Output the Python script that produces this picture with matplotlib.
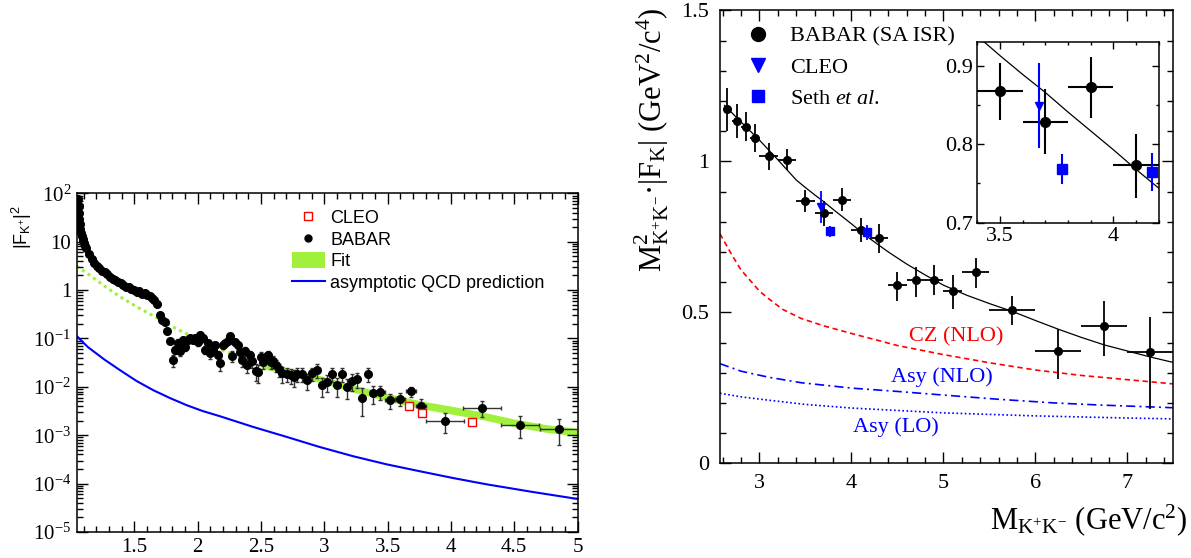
import matplotlib
matplotlib.use('Agg')
import matplotlib.pyplot as plt
from matplotlib.lines import Line2D
from matplotlib.patches import Patch
from matplotlib.ticker import MultipleLocator, LogLocator, NullFormatter, FuncFormatter
import numpy as np

plt.rcParams['font.family'] = 'Liberation Serif'
plt.rcParams['mathtext.fontset'] = 'custom'
plt.rcParams['mathtext.rm'] = 'Liberation Serif'
plt.rcParams['mathtext.it'] = 'Liberation Serif:italic'
plt.rcParams['mathtext.sf'] = 'Liberation Sans'
plt.rcParams['xtick.direction'] = 'in'
plt.rcParams['ytick.direction'] = 'in'
plt.rcParams['xtick.top'] = True
plt.rcParams['ytick.right'] = True

# ---------------- left panel: |F_K+|^2 vs mass ----------------
ff_x = [1.058, 1.061, 1.064, 1.067, 1.071, 1.075, 1.080, 1.086, 1.092, 1.098,
        1.105, 1.112, 1.120, 1.143, 1.164, 1.182, 1.203, 1.224, 1.245, 1.268,
        1.287, 1.308, 1.329, 1.350, 1.371, 1.392, 1.413, 1.434, 1.455, 1.476,
        1.497, 1.518, 1.539, 1.560, 1.581, 1.602, 1.620, 1.638, 1.655, 1.679,
        1.700, 1.722, 1.741, 1.758, 1.782,
        1.803, 1.821, 1.842, 1.860, 1.882, 1.902, 1.921, 1.942, 1.962, 1.981,
        2.000, 2.020, 2.039, 2.057, 2.079, 2.100, 2.118, 2.136, 2.157, 2.176,
        2.197, 2.215, 2.236, 2.254, 2.275, 2.294, 2.315, 2.335, 2.354, 2.375,
        2.393, 2.414, 2.433, 2.459, 2.477, 2.498, 2.519, 2.538, 2.556, 2.577,
        2.598, 2.617, 2.643, 2.670, 2.703, 2.735, 2.760, 2.787, 2.827, 2.866,
        2.905, 2.945, 2.984, 3.023, 3.063, 3.102, 3.142, 3.181, 3.220, 3.260,
        3.301, 3.343, 3.386, 3.443, 3.522, 3.600, 3.684, 3.766, 3.950, 4.249,
        4.548, 4.850]
ff_y = [75, 55, 40, 30, 23, 18.5, 15, 13, 11.5, 10.3,
        9.2, 8.2, 7.3, 5.5, 4.3, 3.7, 3.15, 2.8, 2.5, 2.4,
        2.1, 1.9, 1.72, 1.58, 1.45, 1.38, 1.28, 1.18, 1.14, 1.07,
        1.0, 0.93, 0.96, 0.84, 0.87, 0.80, 0.76, 0.70, 0.62, 0.51,
        0.31, 0.235, 0.22, 0.145, 0.089,
        0.036, 0.059, 0.081, 0.056, 0.092, 0.067, 0.095, 0.100, 0.095, 0.100,
        0.085, 0.117, 0.100, 0.059, 0.079, 0.049, 0.059, 0.073, 0.045, 0.031,
        0.073, 0.079, 0.089, 0.112, 0.043, 0.085, 0.073, 0.053, 0.036, 0.056,
        0.028, 0.045, 0.034, 0.021, 0.020, 0.042, 0.032, 0.041, 0.045, 0.032,
        0.034, 0.028, 0.023, 0.019, 0.0185, 0.0175, 0.0161, 0.0185, 0.0183, 0.0138,
        0.0189, 0.0221, 0.0108, 0.0127, 0.0183, 0.0108, 0.0183, 0.0100, 0.0131, 0.0144,
        0.0060, 0.0183, 0.0075, 0.0079, 0.0053, 0.0057, 0.0081, 0.0041, 0.00200, 0.0037,
        0.00166, 0.00137]
ff_yerr = [2, 1.5, 1, 0.8, 0.6, 0.5, 0.4, 0.35, 0.3, 0.3,
           0.25, 0.2, 0.2, 0.15, 0.12, 0.1, 0.08, 0.07, 0.06, 0.06,
           0.05, 0.05, 0.04, 0.04, 0.04, 0.03, 0.03, 0.03, 0.03, 0.03,
           0.03, 0.03, 0.03, 0.03, 0.03, 0.03, 0.03, 0.02, 0.02, 0.02,
           0.015, 0.012, 0.012, 0.01, 0.01,
           0.010, 0.012, 0.015, 0.012, 0.016, 0.013, 0.016, 0.016, 0.015, 0.016,
           0.015, 0.018, 0.016, 0.012, 0.014, 0.011, 0.012, 0.013, 0.011, 0.010,
           0.013, 0.013, 0.014, 0.016, 0.011, 0.014, 0.013, 0.012, 0.010, 0.012,
           0.009, 0.011, 0.010, 0.008, 0.008, 0.010, 0.009, 0.010, 0.010, 0.009,
           0.009, 0.008, 0.007, 0.007, 0.006, 0.006, 0.006, 0.006, 0.006, 0.005,
           0.006, 0.007, 0.0045, 0.005, 0.006, 0.0045, 0.006, 0.0045, 0.005, 0.005,
           0.0035, 0.006, 0.003, 0.0025, 0.0018, 0.0017, 0.002, 0.0016, 0.0009, 0.0013,
           0.0008, 0.00075]
ff_xerr = [0] * 108 + [0.04, 0.04, 0.04, 0.04, 0.04, 0.15, 0.15, 0.15, 0.15]

cleo_lx = [3.671, 3.772, 4.170]
cleo_ly = [0.0040, 0.0029, 0.00189]

fit_band_x = [2.5, 2.75, 3.0, 3.25, 3.5, 3.75, 4.0, 4.25, 4.5, 4.75, 5.0]
fit_band_lo = [0.0245, 0.0170, 0.0116, 0.0075, 0.0051, 0.0036, 0.00275, 0.0021, 0.0015, 0.00115, 0.00096]
fit_band_hi = [0.0320, 0.0230, 0.0162, 0.0106, 0.0073, 0.0052, 0.0040, 0.0030, 0.00216, 0.00166, 0.00138]
fit_ext_x = [1.045, 1.146, 1.278, 1.409, 1.54, 1.672, 1.803, 1.934, 2.065, 2.196, 2.327, 2.5]
fit_ext_y = [3.14, 2.05, 1.14, 0.67, 0.42, 0.273, 0.174, 0.117, 0.079, 0.057, 0.042, 0.028]

qcd_x = [1.045, 1.134, 1.266, 1.387, 1.518, 1.650, 1.78, 1.913, 2.04, 2.176,
         2.44, 2.702, 2.96, 3.228, 3.49, 3.755, 4.02, 4.281, 4.64, 5.0]
qcd_y = [0.112, 0.0661, 0.0363, 0.0221, 0.0132, 0.00851, 0.00589, 0.00418, 0.00316, 0.00247,
         0.00148, 0.000925, 0.000575, 0.000368, 0.000251, 0.000180, 0.000130, 0.0000968,
         0.0000676, 0.0000482]

left_yticks = [1e-5, 1e-4, 1e-3, 1e-2, 1e-1, 1, 10, 100]
left_ylabels = ['$10^{-5}$', '$10^{-4}$', '$10^{-3}$', '$10^{-2}$', '$10^{-1}$', '1', '10', '$10^{2}$']

# ---------------- right panel: M^2 |F_K| ----------------
bb_x = [2.65, 2.75, 2.85, 2.95, 3.1, 3.3, 3.5, 3.7, 3.9, 4.1, 4.3, 4.5, 4.7, 4.9, 5.1, 5.35, 5.75, 6.25, 6.75, 7.25]
bb_y = [1.172, 1.134, 1.115, 1.077, 1.016, 1.005, 0.868, 0.829, 0.873, 0.774, 0.745, 0.589, 0.607, 0.607, 0.572, 0.633, 0.508, 0.372, 0.456, 0.367]
bb_xerr = [0.05, 0.05, 0.05, 0.05, 0.1, 0.1, 0.1, 0.1, 0.1, 0.1, 0.1, 0.1, 0.1, 0.1, 0.1, 0.15, 0.25, 0.25, 0.25, 0.25]
bb_ylo = [0.07, 0.056, 0.049, 0.046, 0.044, 0.035, 0.037, 0.042, 0.039, 0.042, 0.047, 0.05, 0.055, 0.05, 0.062, 0.053, 0.051, 0.094, 0.102, 0.188]
bb_yhi = [0.07, 0.056, 0.049, 0.046, 0.044, 0.035, 0.036, 0.041, 0.038, 0.0385, 0.047, 0.043, 0.043, 0.05, 0.052, 0.047, 0.047, 0.072, 0.083, 0.119]

cleo_x = [3.671]
cleo_y = [0.849]
cleo_err = [0.054]
seth_x = [3.772, 4.17]
seth_y = [0.768, 0.765]
seth_err = [0.019, 0.024]

fit_x = [2.62, 2.8, 3.0, 3.2, 3.4, 3.5, 3.6, 3.7, 3.8, 3.9, 4.0, 4.1, 4.2, 4.4, 4.6, 4.8, 5.0,
         5.25, 5.5, 5.75, 6.0, 6.25, 6.5, 6.75, 7.0, 7.25, 7.5]
fit_y = [1.185, 1.13, 1.07, 1.005, 0.938, 0.913, 0.889, 0.866, 0.841, 0.817, 0.793, 0.768, 0.744,
         0.70, 0.66, 0.624, 0.59, 0.557, 0.529, 0.503, 0.473, 0.444, 0.417, 0.392, 0.372, 0.352, 0.334]

cz_x = [2.57, 2.7, 2.8, 2.9, 3.0, 3.1, 3.25, 3.45, 3.7, 4.0, 4.5, 5.0, 5.5, 6.0, 6.5, 7.0, 7.5]
cz_y = [0.76, 0.69, 0.64, 0.605, 0.57, 0.545, 0.51, 0.48, 0.455, 0.43, 0.39, 0.36, 0.333, 0.309, 0.291, 0.277, 0.263]
asy_nlo_x = [2.57, 2.8, 3.1, 3.45, 4.0, 4.5, 5.0, 5.6, 6.2, 6.7, 7.5]
asy_nlo_y = [0.33, 0.305, 0.285, 0.267, 0.249, 0.238, 0.226, 0.212, 0.200, 0.193, 0.184]
asy_lo_x = [2.57, 2.8, 3.1, 3.5, 4.0, 4.5, 5.0, 6.0, 7.0, 7.5]
asy_lo_y = [0.232, 0.22, 0.209, 0.195, 0.183, 0.175, 0.167, 0.157, 0.150, 0.147]

green = '#a0f03c'
blue = '#0000ff'

fig = plt.figure(figsize=(11.91, 5.58), dpi=100)

# ---- left ----
ax1 = fig.add_axes([0.0644, 0.0466, 0.4205, 0.607])
ax1.set_yscale('log')
ax1.fill_between(fit_band_x, fit_band_lo, fit_band_hi, color=green, lw=0, zorder=1)
ax1.plot(fit_ext_x, fit_ext_y, color=green, ls=(0, (1, 1.2)), lw=2.2, zorder=1)
ax1.plot(qcd_x, qcd_y, color=blue, lw=1.5, zorder=2)
ax1.errorbar(ff_x, ff_y, yerr=ff_yerr, xerr=ff_xerr, fmt='o', ms=5.5, color='k',
             ecolor='#333333', elinewidth=1, capsize=1.5, capthick=1, zorder=3)
ax1.plot(cleo_lx, cleo_ly, 's', ms=5.5, mfc='white', mec='red', mew=1, zorder=4)
ax1.set_xlim(1.045, 5)
ax1.set_ylim(1e-5, 1e2)
ax1.xaxis.set_major_locator(MultipleLocator(0.5))
ax1.xaxis.set_minor_locator(MultipleLocator(0.1))
ax1.xaxis.set_major_formatter(FuncFormatter(lambda v, p: '%g' % v))
ax1.set_yticks(left_yticks)
ax1.set_yticklabels(left_ylabels)
ax1.yaxis.set_minor_locator(LogLocator(base=10, subs=np.arange(2, 10), numticks=30))
ax1.yaxis.set_minor_formatter(NullFormatter())
ax1.tick_params(which='major', length=8, width=1, labelsize=15)
ax1.tick_params(which='minor', length=4, width=1)
ax1.tick_params(axis='x', pad=4)
ax1.tick_params(axis='y', pad=4)
for s in ax1.spines.values():
    s.set_linewidth(1.1)

hl = [Line2D([], [], marker='s', ls='none', ms=5.5, mfc='white', mec='red', mew=1),
      Line2D([], [], marker='o', ls='none', ms=5, color='k'),
      Patch(color=green, lw=0),
      Line2D([], [], color=blue, lw=1.5)]
ax1.legend(hl, ['CLEO', 'BABAR', 'Fit', 'asymptotic QCD prediction'],
           loc='upper left', bbox_to_anchor=(0.2449, 0.625), bbox_transform=fig.transFigure,
           frameon=False, borderpad=0, borderaxespad=0, handlelength=1.85,
           handleheight=0.95, handletextpad=0.3, labelspacing=0.2,
           prop={'family': 'Liberation Sans', 'size': 13})
fig.text(22 / 1191, 1 - 227 / 558, r'$\mathsf{|F_{K^{+}}|^{2}}$', rotation=90,
         ha='center', va='center', fontsize=13)

# ---- right ----
ax2 = fig.add_axes([0.6045, 0.1697, 0.3806, 0.8118])
ax2.plot(cz_x, cz_y, color='#ff0000', lw=1.2, dashes=(3.2, 2.2))
ax2.plot(asy_nlo_x, asy_nlo_y, color=blue, lw=1.2, dashes=(5.5, 2.5, 1.2, 2.5))
ax2.plot(asy_lo_x, asy_lo_y, color=blue, lw=1.2, dashes=(1, 1.5))
ax2.plot(fit_x, fit_y, color='k', lw=0.9)
ax2.errorbar(bb_x, bb_y, xerr=bb_xerr, yerr=[bb_ylo, bb_yhi], fmt='o', ms=5.5,
             color='k', elinewidth=1.3, capsize=0)
ax2.errorbar(cleo_x, cleo_y, yerr=cleo_err, fmt='v', ms=5.5, color=blue, elinewidth=1.3, capsize=0)
ax2.errorbar(seth_x, seth_y, yerr=seth_err, fmt='s', ms=5.5, color=blue, elinewidth=1.3, capsize=0)
ax2.text(5.136, 0.419, 'CZ (NLO)', color='#ff0000', fontsize=16, ha='center', va='center')
ax2.text(4.984, 0.285, 'Asy (NLO)', color=blue, fontsize=16, ha='center', va='center')
ax2.text(4.486, 0.119, 'Asy (LO)', color=blue, fontsize=16, ha='center', va='center')
ax2.set_xlim(2.57, 7.5)
ax2.set_ylim(0, 1.5)
ax2.xaxis.set_major_locator(MultipleLocator(1))
ax2.xaxis.set_minor_locator(MultipleLocator(0.2))
ax2.yaxis.set_major_locator(MultipleLocator(0.5))
ax2.yaxis.set_minor_locator(MultipleLocator(0.1))
ax2.xaxis.set_major_formatter(FuncFormatter(lambda v, p: '%g' % v))
ax2.yaxis.set_major_formatter(FuncFormatter(lambda v, p: '%g' % v))
ax2.tick_params(which='major', length=8, width=1, labelsize=16)
ax2.tick_params(which='minor', length=4, width=1)
ax2.tick_params(axis='x', pad=8)
ax2.tick_params(axis='y', pad=8)
for s in ax2.spines.values():
    s.set_linewidth(1.1)

hr = [Line2D([], [], marker='o', ls='none', ms=10, color='k'),
      Line2D([], [], marker='v', ls='none', ms=10, color=blue),
      Line2D([], [], marker='s', ls='none', ms=8.5, color=blue)]
ax2.legend(hr, ['BABAR (SA ISR)', 'CLEO', r'Seth $\mathit{et\ al.}$'],
           loc='upper left', bbox_to_anchor=(0.6226, 0.9534), bbox_transform=fig.transFigure,
           frameon=False, borderpad=0, borderaxespad=0, handlelength=1.5,
           handletextpad=0.7, labelspacing=0.47, prop={'size': 16})

fig.text(652 / 1191, 1 - 140 / 558,
         r'$\mathrm{M}^{2}_{\mathrm{K^{+}K^{-}}}$·$|\mathrm{F}_{\mathrm{K}}|$ (GeV$^{2}$/c$^{4}$)',
         rotation=90, ha='center', va='center', fontsize=22)
fig.text(1187 / 1191, 1 - 520 / 558,
         r'$\mathrm{M}_{\mathrm{K^{+}K^{-}}}$ (GeV/c$^{2}$)',
         ha='right', va='center', fontsize=22)

# ---- inset ----
ax3 = fig.add_axes([0.8206, 0.6009, 0.1523, 0.3233])
ax3.plot(fit_x, fit_y, color='k', lw=0.9)
ax3.errorbar(bb_x, bb_y, xerr=bb_xerr, yerr=[bb_ylo, bb_yhi], fmt='o', ms=7,
             color='k', elinewidth=1.5, capsize=0)
ax3.errorbar(cleo_x, cleo_y, yerr=cleo_err, fmt='v', ms=6, color=blue, elinewidth=1.5, capsize=0)
ax3.errorbar(seth_x, seth_y, yerr=seth_err, fmt='s', ms=6.5, color=blue, elinewidth=1.5, capsize=0)
ax3.set_xlim(3.4, 4.2)
ax3.set_ylim(0.7, 0.93)
ax3.xaxis.set_major_locator(MultipleLocator(0.5))
ax3.xaxis.set_minor_locator(MultipleLocator(0.1))
ax3.yaxis.set_major_locator(MultipleLocator(0.1))
ax3.yaxis.set_minor_locator(MultipleLocator(0.05))
ax3.xaxis.set_major_formatter(FuncFormatter(lambda v, p: '%g' % v))
ax3.yaxis.set_major_formatter(FuncFormatter(lambda v, p: '%g' % v))
ax3.tick_params(which='major', length=5, width=1, labelsize=16, pad=3)
ax3.tick_params(which='minor', length=2.5, width=1)
for s in ax3.spines.values():
    s.set_linewidth(1.1)

fig.savefig('out.png', dpi=100)
